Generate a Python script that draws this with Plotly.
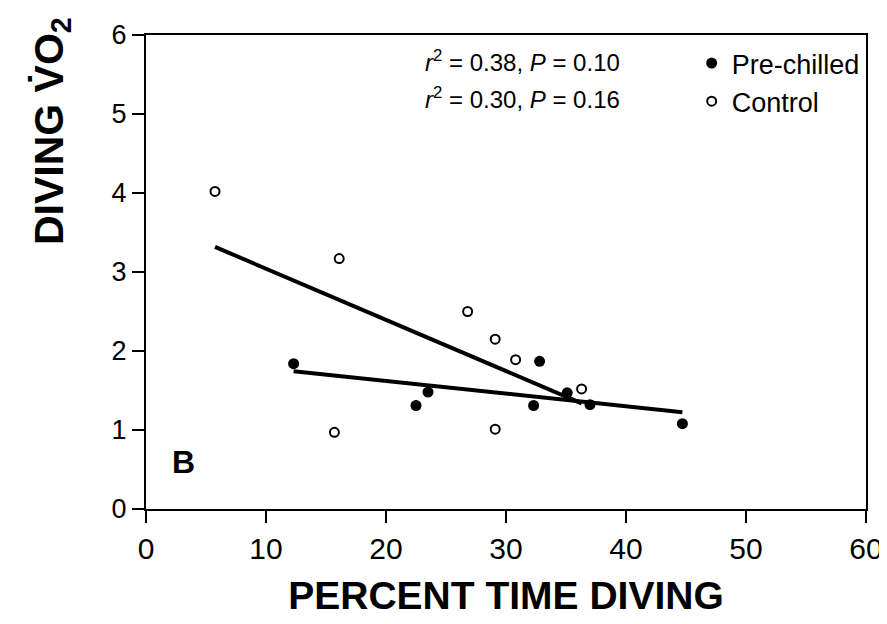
import numpy as np
import plotly.graph_objects as go

# Data
prechilled_x = [12.3, 22.5, 23.5, 32.3, 32.8, 35.1, 37.0, 44.7]
prechilled_y = [1.84, 1.31, 1.48, 1.31, 1.87, 1.47, 1.32, 1.08]
control_x = [5.75, 15.7, 16.1, 26.8, 29.1, 29.1, 30.8, 36.3]
control_y = [4.02, 0.97, 3.17, 2.50, 2.15, 1.01, 1.89, 1.52]
x_ticks = [0, 10, 20, 30, 40, 50, 60]
y_ticks = [0, 1, 2, 3, 4, 5, 6]
stats_text = ["<i>r</i><sup>2</sup> = 0.38, <i>P</i> = 0.10",
              "<i>r</i><sup>2</sup> = 0.30, <i>P</i> = 0.16"]

FONT = "Liberation Sans, Arial, sans-serif"


def fit_line(xs, ys):
    xs = np.asarray(xs, float)
    ys = np.asarray(ys, float)
    slope, intercept = np.polyfit(xs, ys, 1)
    xr = np.array([xs.min(), xs.max()])
    return xr, slope * xr + intercept


fig = go.Figure()

for xs, ys in [(control_x, control_y), (prechilled_x, prechilled_y)]:
    lx, ly = fit_line(xs, ys)
    fig.add_trace(go.Scatter(x=lx, y=ly, mode="lines",
                             line=dict(color="black", width=4),
                             showlegend=False, hoverinfo="skip"))

fig.add_trace(go.Scatter(x=prechilled_x, y=prechilled_y, mode="markers",
                         name="Pre-chilled", legendgroup="a",
                         marker=dict(symbol="circle", size=11, color="black")))
fig.add_trace(go.Scatter(x=control_x, y=control_y, mode="markers",
                         name="Control", legendgroup="b",
                         marker=dict(symbol="circle-open", size=9, color="black",
                                     line=dict(width=2, color="black"))))

L, R, T, B = 138, 18, 25, 123
W, H = 887, 624
pw, ph = W - L - R, H - T - B


def px(xp):
    return (xp - L) / pw


def py(yp):
    return (H - B - yp) / ph


fig.update_layout(
    width=W, height=H,
    margin=dict(l=L, r=R, t=T, b=B),
    paper_bgcolor="white", plot_bgcolor="white",
    font=dict(family=FONT, color="black"),
    showlegend=True,
    legend=dict(x=px(692), y=py(29), xanchor="left", yanchor="top",
                font=dict(size=27, family=FONT), bgcolor="rgba(0,0,0,0)",
                tracegroupgap=0, itemwidth=30),
    xaxis=dict(range=[0, 60], tickvals=x_ticks, ticktext=[str(v) for v in x_ticks],
               showgrid=False, zeroline=False, showline=True, mirror=True,
               linecolor="black", linewidth=2, ticks="outside", ticklen=12,
               tickwidth=2, tickcolor="black",
               tickfont=dict(size=30, family=FONT),
               title=dict(text="<b>PERCENT TIME DIVING</b>",
                          font=dict(size=39, family=FONT), standoff=18)),
    yaxis=dict(range=[0, 6], tickvals=y_ticks, ticktext=[str(v) for v in y_ticks],
               showgrid=False, zeroline=False, showline=True, mirror=True,
               linecolor="black", linewidth=2, ticks="outside", ticklen=12,
               tickwidth=2, tickcolor="black",
               tickfont=dict(size=27, family=FONT)),
)

annotations = [
    dict(text="<b>DIVING V\u0307O<sub>2</sub></b>", textangle=-90,
         xref="paper", yref="paper", x=px(42), y=py(121),
         xanchor="center", yanchor="middle", showarrow=False,
         font=dict(size=41, family=FONT, color="black")),
    dict(text="<b>B</b>", xref="paper", yref="paper", x=px(176), y=py(454),
         xanchor="center", yanchor="middle", showarrow=False,
         font=dict(size=32, family=FONT, color="black")),
]
for i, txt in enumerate(stats_text):
    annotations.append(dict(text=txt, xref="paper", yref="paper",
                            x=px(621), y=py(51 + 37 * i),
                            xanchor="right", yanchor="middle", showarrow=False,
                            font=dict(size=24, family=FONT, color="black")))
fig.update_layout(annotations=annotations)

fig.write_html("out.html")
